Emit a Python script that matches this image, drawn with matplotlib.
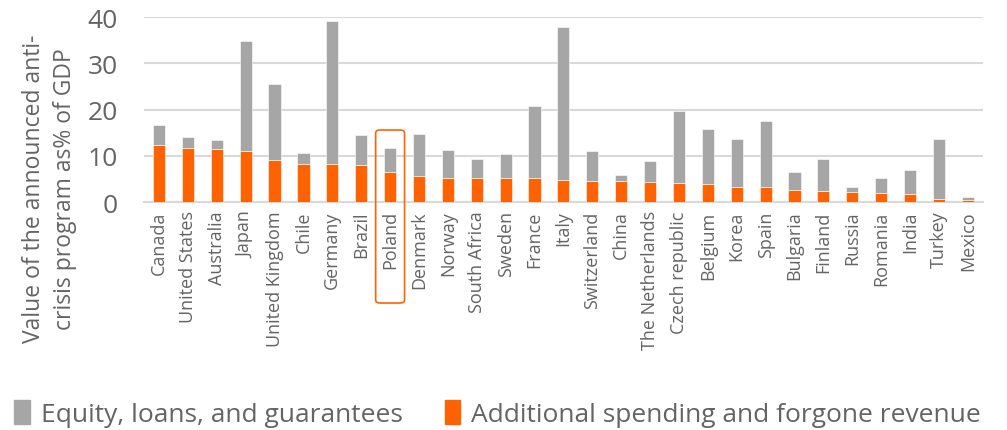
import numpy as np
import matplotlib
matplotlib.use("Agg")
import matplotlib.pyplot as plt
from matplotlib.patches import FancyBboxPatch, Patch
import matplotlib.transforms as mtransforms

plt.rcParams["font.family"] = ["Open Sans", "DejaVu Sans"]

countries = ["Canada", "United States", "Australia", "Japan", "United Kingdom", "Chile",
             "Germany", "Brazil", "Poland", "Denmark", "Norway", "South Africa", "Sweden",
             "France", "Italy", "Switzerland", "China", "The Netherlands", "Czech republic",
             "Belgium", "Korea", "Spain", "Bulgaria", "Finland", "Russia", "Romania",
             "India", "Turkey", "Mexico"]
spending = [12.4, 11.6, 11.5, 11.1, 9.0, 8.2, 8.2, 8.0, 6.5, 5.7, 5.2, 5.1, 5.1,
            5.1, 4.8, 4.6, 4.6, 4.3, 4.1, 3.8, 3.3, 3.3, 2.5, 2.4, 2.2, 2.0, 1.7, 0.65, 0.4]
total = [16.6, 14.1, 13.4, 34.9, 25.6, 10.6, 39.1, 14.5, 11.6, 14.8, 11.3, 9.3, 10.5,
         20.9, 37.9, 11.0, 5.8, 8.8, 19.7, 15.9, 13.7, 17.5, 6.5, 9.4, 3.3, 5.3, 6.9, 13.7, 1.0]
equity = [t - s for t, s in zip(total, spending)]

ORANGE = "#FF6200"
GREY = "#A6A6A6"
TXT = "#646464"

fig = plt.figure(figsize=(10.07, 4.31), dpi=100)
ax = fig.add_axes([0.143, 0.529, 0.833, 0.4285])

x = np.arange(len(countries))
ax.bar(x, spending, width=0.42, color=ORANGE, edgecolor="white", linewidth=0.4, zorder=3)
ax.bar(x, equity, width=0.42, bottom=spending, color=GREY, edgecolor="white", linewidth=0.4, zorder=3)

ax.set_ylim(0, 40)
ax.set_xlim(-0.52, len(countries) - 0.48)
ax.set_yticks([0, 10, 20, 30, 40])
ax.yaxis.grid(True, color="#D9D9D9", linewidth=1.5, zorder=0)
ax.set_axisbelow(True)
for s in ("top", "right", "left"):
    ax.spines[s].set_visible(False)
ax.spines["bottom"].set_color("#D9D9D9")
ax.spines["bottom"].set_linewidth(1.5)
ax.tick_params(axis="y", length=0, pad=19, labelsize=19, labelcolor=TXT)
ax.tick_params(axis="x", length=0, pad=6, labelsize=13, labelcolor=TXT)
ax.set_xticks(x)
ax.set_xticklabels(countries, rotation=90)

ax.set_ylabel("Value of the announced anti-\ncrisis program as% of GDP",
              fontsize=16.5, color=TXT, linespacing=1.4)
ax.yaxis.set_label_coords(-0.08, 0.075)

# highlight box round Poland
i = countries.index("Poland")
trans = mtransforms.blended_transform_factory(ax.transData, fig.transFigure)
box = FancyBboxPatch((i - 0.5, 1 - 304 / 431), 1.0, (304 - 131) / 431,
                     boxstyle="round,pad=0,rounding_size=0.15", transform=trans,
                     fill=False, edgecolor=ORANGE, linewidth=1.2, clip_on=False,
                     mutation_aspect=0.05)
fig.add_artist(box)

handles = [Patch(color=GREY, label="Equity, loans, and guarantees"),
           Patch(color=ORANGE, label="Additional spending and forgone revenue")]
leg = fig.legend(handles=handles, loc="lower center", bbox_to_anchor=(0.494, -0.048), ncol=2,
                 frameon=False, fontsize=19, handlelength=0.6, handleheight=1.0,
                 handletextpad=0.4, columnspacing=1.6)
for t in leg.get_texts():
    t.set_color(TXT)

fig.savefig("out.png", dpi=100)
